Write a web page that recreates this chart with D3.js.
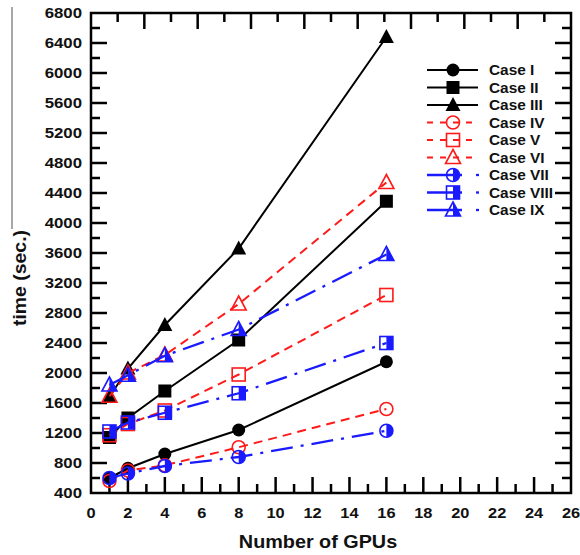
<!DOCTYPE html>
<html>
<head>
<meta charset="utf-8">
<script src="https://cdn.jsdelivr.net/npm/d3@7"></script>
<style>
  html, body { margin: 0; padding: 0; background: #fff; }
  svg { display: block; }
  text { font-family: Arial, "Liberation Sans", Helvetica, sans-serif; font-weight: bold; fill: #111; }
</style>
</head>
<body>
<svg id="chart" width="580" height="555"></svg>
<script>
// GPU counts on the x axis
const gpus = [1, 2, 4, 8, 16];

// Run time (sec.) for each case
const caseI    = [600, 730, 920, 1240, 2150];
const caseII   = [1140, 1400, 1760, 2440, 4290];
const caseIII  = [1680, 2060, 2640, 3660, 6480];
const caseIV   = [560, 700, 770, 1010, 1520];
const caseV    = [1170, 1320, 1500, 1980, 3040];
const caseVI   = [1690, 2000, 2240, 2920, 4540];
const caseVII  = [600, 660, 760, 880, 1230];
const caseVIII = [1220, 1340, 1470, 1730, 2400];
const caseIX   = [1840, 1970, 2230, 2580, 3580];

const caseNames = ["Case I", "Case II", "Case III", "Case IV", "Case V", "Case VI", "Case VII", "Case VIII", "Case IX"];

// Tick values
const xTicks = d3.range(0, 27, 2);
const yTicks = d3.range(400, 6801, 400);

const series = [
  { name: caseNames[0], values: caseI,    group: "black", shape: "circle" },
  { name: caseNames[1], values: caseII,   group: "black", shape: "square" },
  { name: caseNames[2], values: caseIII,  group: "black", shape: "triangle" },
  { name: caseNames[3], values: caseIV,   group: "red",   shape: "circle" },
  { name: caseNames[4], values: caseV,    group: "red",   shape: "square" },
  { name: caseNames[5], values: caseVI,   group: "red",   shape: "triangle" },
  { name: caseNames[6], values: caseVII,  group: "blue",  shape: "circle" },
  { name: caseNames[7], values: caseVIII, group: "blue",  shape: "square" },
  { name: caseNames[8], values: caseIX,   group: "blue",  shape: "triangle" }
];

const styles = {
  black: { color: "#000", width: 2,   dash: null },
  red:   { color: "#ff1a1a", width: 2, dash: "9,6" },
  blue:  { color: "#1a1aff", width: 2.3, dash: "22,8,3,8" }
};

const svg = d3.select("#chart");
const plot = { left: 91, right: 571, top: 13, bottom: 493 };

const x = d3.scaleLinear().domain([0, 26]).range([plot.left, plot.right]);
const y = d3.scaleLinear().domain([400, 6800]).range([plot.bottom, plot.top]);

// Text with a slight horizontal stretch
function label(g, px, py, str, size, anchor, sx) {
  return g.append("text")
    .attr("transform", `translate(${px},${py}) scale(${sx},1)`)
    .attr("text-anchor", anchor)
    .style("font-size", size + "px")
    .text(str);
}

// thin rule at the far left
svg.append("line").attr("x1", 12).attr("x2", 12).attr("y1", 7).attr("y2", 229)
  .attr("stroke", "#8a8a8a").attr("stroke-width", 1.5);

// Frame
svg.append("rect")
  .attr("x", plot.left).attr("y", plot.top)
  .attr("width", plot.right - plot.left).attr("height", plot.bottom - plot.top)
  .attr("fill", "none").attr("stroke", "#000").attr("stroke-width", 2.5);

const majorLen = 16, minorLen = 9;
const ticks = svg.append("g").attr("stroke", "#000").attr("stroke-width", 2.5);

// Bottom axis ticks (major every 2, minor every 1)
d3.range(1, 26).forEach(v => {
  const len = v % 2 === 0 ? majorLen : minorLen;
  ticks.append("line").attr("x1", x(v)).attr("x2", x(v)).attr("y1", plot.bottom).attr("y2", plot.bottom - len);
});
// Top axis ticks: 9 major divisions with minor halves
const xTop = d3.scaleLinear().domain([0, 18]).range([plot.left, plot.right]);
d3.range(1, 18).forEach(v => {
  const len = v % 2 === 0 ? majorLen : minorLen;
  ticks.append("line").attr("x1", xTop(v)).attr("x2", xTop(v)).attr("y1", plot.top).attr("y2", plot.top + len);
});
// Left and right ticks (major every 400, minor every 200)
d3.range(600, 6800, 200).forEach(v => {
  const len = v % 400 === 0 ? majorLen : minorLen;
  ticks.append("line").attr("x1", plot.left).attr("x2", plot.left + len).attr("y1", y(v)).attr("y2", y(v));
  ticks.append("line").attr("x1", plot.right).attr("x2", plot.right - len).attr("y1", y(v)).attr("y2", y(v));
});

// Tick labels
const labels = svg.append("g");
xTicks.forEach(v => label(labels, x(v), 518, String(v), 14, "middle", 1.17));
yTicks.forEach(v => label(labels, 82, y(v) + 5, String(v), 14, "end", 1.2));

// Axis titles
label(svg, (plot.left + plot.right) / 2 - 13, 548, "Number of GPUs", 18, "middle", 1.1);
svg.append("text")
  .attr("transform", "translate(26,278) rotate(-90) scale(1.08,1)")
  .attr("text-anchor", "middle")
  .style("font-size", "18px")
  .text("time (sec.)");

// Marker drawing: open (transparent), filled, or right-half filled
function drawMarker(g, cx, cy, shape, group) {
  const st = styles[group];
  const c = st.color;
  if (shape === "circle") {
    const r = 6.5;
    if (group === "black") {
      g.append("circle").attr("cx", cx).attr("cy", cy).attr("r", r).attr("fill", c);
    } else {
      if (group === "blue") {
        g.append("path")
          .attr("d", `M${cx},${cy - r} A${r},${r} 0 0 1 ${cx},${cy + r} Z`)
          .attr("fill", c);
      }
      g.append("circle").attr("cx", cx).attr("cy", cy).attr("r", r)
        .attr("fill", "none").attr("stroke", c).attr("stroke-width", 1.6);
    }
  } else if (shape === "square") {
    const h = 6.5;
    if (group === "black") {
      g.append("rect").attr("x", cx - h).attr("y", cy - h).attr("width", 2 * h).attr("height", 2 * h).attr("fill", c);
    } else {
      if (group === "blue") {
        g.append("rect").attr("x", cx).attr("y", cy - h).attr("width", h).attr("height", 2 * h).attr("fill", c);
      }
      g.append("rect").attr("x", cx - h).attr("y", cy - h).attr("width", 2 * h).attr("height", 2 * h)
        .attr("fill", "none").attr("stroke", c).attr("stroke-width", 1.6);
    }
  } else {
    const w = 7.5, up = 8, dn = 6;
    const tri = `M${cx},${cy - up} L${cx + w},${cy + dn} L${cx - w},${cy + dn} Z`;
    if (group === "black") {
      g.append("path").attr("d", tri).attr("fill", c);
    } else {
      if (group === "blue") {
        g.append("path").attr("d", `M${cx},${cy - up} L${cx + w},${cy + dn} L${cx},${cy + dn} Z`).attr("fill", c);
      }
      g.append("path").attr("d", tri).attr("fill", "none").attr("stroke", c).attr("stroke-width", 1.6)
        .attr("stroke-linejoin", "miter");
    }
  }
}

const line = d3.line().x(d => x(d[0])).y(d => y(d[1]));

// Series: black first, then red, then blue on top
const marks = svg.append("g");
series.forEach(s => {
  const st = styles[s.group];
  const pts = gpus.map((g, i) => [g, s.values[i]]);
  marks.append("path")
    .attr("d", line(pts))
    .attr("fill", "none")
    .attr("stroke", st.color)
    .attr("stroke-width", st.width)
    .attr("stroke-dasharray", st.dash);
  const mg = marks.append("g");
  pts.forEach(p => drawMarker(mg, x(p[0]), y(p[1]), s.shape, s.group));
});

// Legend
const legend = svg.append("g");
const lx0 = 427, lx1 = 478, lmx = 453, ltx = 489, ly0 = 70, lstep = 17.5;
series.forEach((s, i) => {
  const st = styles[s.group];
  const ly = ly0 + i * lstep;
  if (s.group === "blue") {
    legend.append("line").attr("x1", lx0).attr("x2", lx0 + 35).attr("y1", ly).attr("y2", ly)
      .attr("stroke", st.color).attr("stroke-width", st.width);
    legend.append("line").attr("x1", lx1 - 2).attr("x2", lx1 + 1).attr("y1", ly).attr("y2", ly)
      .attr("stroke", st.color).attr("stroke-width", st.width);
  } else {
    legend.append("line").attr("x1", lx0).attr("x2", lx1).attr("y1", ly).attr("y2", ly)
      .attr("stroke", st.color).attr("stroke-width", st.width)
      .attr("stroke-dasharray", s.group === "red" ? "6,7" : null);
  }
  drawMarker(legend, lmx, ly, s.shape, s.group);
  label(legend, ltx, ly + 5, s.name, 14, "start", 1.1);
});
</script>
</body>
</html>
